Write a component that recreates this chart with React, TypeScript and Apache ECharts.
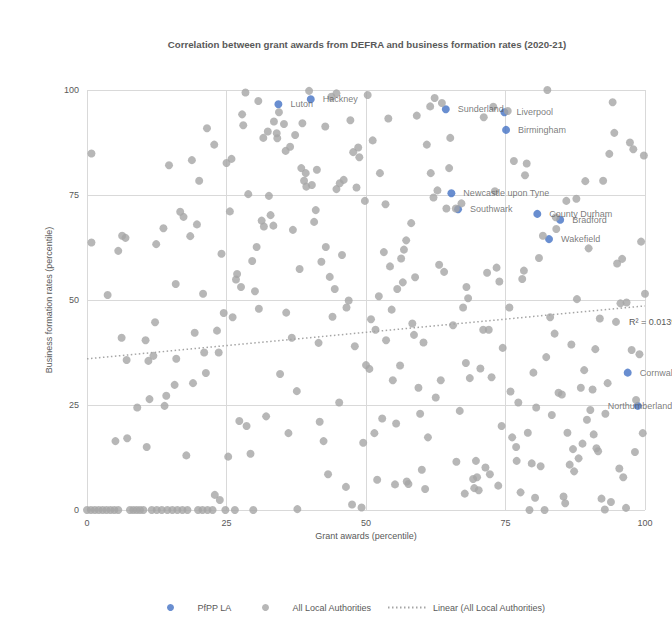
import React, { useEffect, useRef } from "react";
import * as echarts from "echarts";

const TITLE = "Correlation between grant awards from DEFRA and business formation rates (2020-21)";
const X_NAME = "Grant awards (percentile)";
const Y_NAME = "Business formation rates (percentile)";
const SERIES_PFPP = "PfPP LA";
const SERIES_ALL = "All Local Authorities";
const SERIES_TREND = "Linear (All Local Authorities)";
const R_SQUARED = "R² = 0.0139";

const pfppNames = ["Luton", "Hackney", "Sunderland", "Liverpool", "Birmingham", "Newcastle upon Tyne", "Southwark", "County Durham", "Bradford", "Wakefield", "Cornwall", "Northumberland"];
const pfppGrant = [34.3, 40.1, 64.3, 74.8, 75.1, 65.3, 66.5, 80.7, 84.8, 82.8, 96.9, 98.7];
const pfppBusiness = [96.6, 97.8, 95.4, 94.7, 90.5, 75.4, 71.6, 70.5, 69.1, 64.5, 32.7, 24.8];

const allHigh: [number, number][] = [
  [28.4, 99.4], [30.7, 97.4], [34.4, 94.7], [27.8, 94.2], [28.0, 91.6], [33.5, 92.5], [32.4, 90.1], [34.0, 89.7], [31.6, 88.6], [34.1, 88.5],
  [21.5, 90.9], [22.8, 87.0], [0.8, 84.9], [14.7, 82.1], [18.8, 83.3], [25.0, 82.6], [25.9, 83.6], [20.1, 78.4], [28.9, 75.2], [32.6, 74.8],
  [25.6, 71.1], [16.7, 71.0], [17.3, 69.8], [19.7, 68.0], [13.7, 67.1], [32.9, 70.2], [31.3, 68.9], [33.4, 67.7], [31.7, 67.5],
  [39.8, 99.8], [44.7, 99.2], [43.8, 98.4], [50.3, 98.8], [35.3, 91.9], [38.6, 92.1], [42.7, 91.3], [47.2, 92.8], [37.3, 89.3], [35.6, 85.5],
  [36.4, 86.5], [47.7, 85.2], [48.6, 86.3], [48.8, 84.0], [51.2, 88.0], [54.0, 93.2], [59.1, 93.9], [61.5, 96.1], [62.3, 98.1], [63.6, 96.9],
  [65.1, 88.6], [60.9, 87.0], [38.4, 81.4], [39.2, 80.2], [41.2, 81.0], [38.9, 78.4], [39.3, 77.0], [40.3, 77.4], [44.7, 76.4], [45.3, 77.8],
  [46.0, 78.6], [48.3, 76.8], [52.5, 80.2], [61.6, 80.2], [64.9, 81.4], [62.8, 76.1], [62.1, 74.4], [64.4, 71.8], [66.1, 71.8], [67.1, 73.0],
  [49.8, 73.6], [53.5, 72.8], [41.0, 71.4], [40.7, 68.6], [36.9, 66.7], [58.1, 68.3],
  [82.5, 100], [94.2, 97.1], [72.8, 96.0], [71.1, 93.5], [75.4, 95.0], [94.5, 89.8], [97.3, 87.5], [97.9, 85.9], [99.8, 84.4], [93.6, 84.8],
  [76.5, 83.1], [78.8, 82.5], [78.5, 79.7], [89.3, 78.3], [92.5, 78.4], [73.1, 75.9], [85.9, 73.6], [87.7, 74.1], [84.0, 69.7], [84.1, 66.9],
];

const allMid: [number, number][] = [
  [0.8, 63.7], [6.3, 65.3], [6.9, 64.8], [5.6, 61.7], [12.4, 63.3], [18.5, 65.2], [24.1, 61.0], [15.9, 53.8], [3.7, 51.2], [20.8, 51.5],
  [26.9, 56.2], [26.7, 54.9], [27.6, 53.1], [29.6, 59.3], [30.4, 62.6], [30.1, 52.1], [24.5, 46.9], [26.1, 45.9], [30.8, 47.9], [12.2, 44.7],
  [6.2, 41.0], [10.5, 40.4], [19.3, 42.2], [23.3, 42.7], [7.1, 35.7], [11.0, 35.5], [11.9, 36.7], [16.0, 36.0], [21.0, 37.5], [23.6, 37.5],
  [21.3, 32.6], [34.6, 32.4],
  [57.2, 64.2], [56.8, 62.0], [56.3, 59.9], [53.2, 61.4], [54.3, 58.0], [42.8, 62.6], [45.7, 60.7], [42.0, 59.1], [38.1, 57.4], [43.5, 55.5],
  [44.4, 52.6], [46.9, 49.9], [46.5, 48.2], [52.3, 50.9], [56.6, 54.2], [55.6, 52.6], [58.8, 55.4], [63.1, 58.4], [64.0, 56.7], [68.0, 53.1],
  [68.3, 50.4], [67.4, 48.2], [35.7, 47.0], [44.0, 46.0], [50.9, 45.4], [54.6, 47.7], [51.7, 42.9], [58.3, 44.4], [58.6, 41.7], [65.6, 44.0],
  [36.7, 41.0], [41.5, 39.8], [48.0, 39.0], [53.6, 40.4], [60.3, 39.9], [50.0, 34.5], [50.6, 33.6], [56.1, 34.4], [67.9, 35.0],
  [81.7, 65.3], [99.3, 63.9], [89.9, 62.3], [81.0, 60.0], [95.0, 58.7], [95.9, 59.8], [71.7, 56.5], [73.4, 57.7], [73.9, 54.4], [78.3, 57.0],
  [78.0, 55.0], [75.7, 48.2], [87.8, 50.2], [95.6, 49.2], [96.7, 49.4], [100, 51.5], [83.0, 45.9], [91.9, 45.6], [94.8, 44.8], [71.0, 42.9],
  [72.0, 42.9], [83.8, 42.0], [74.5, 38.6], [86.8, 39.4], [91.1, 38.3], [97.6, 38.1], [99.0, 37.1], [82.3, 36.4], [70.5, 33.7], [80.0, 32.7],
  [89.1, 33.3], [72.5, 31.6],
];

const allLow: [number, number][] = [
  [15.7, 29.8], [19.0, 30.2], [11.2, 26.4], [14.2, 27.2], [9.0, 24.4], [13.9, 24.8], [5.1, 16.4], [7.2, 17.1], [10.7, 15.0], [17.8, 13.0],
  [25.3, 12.7], [29.3, 13.4], [27.3, 21.2], [28.6, 20.0], [32.1, 22.3], [22.9, 3.6], [23.8, 2.4],
  [37.6, 28.3], [45.2, 25.6], [54.8, 30.9], [59.4, 29.1], [63.4, 30.9], [62.5, 26.8], [68.6, 31.4], [36.1, 18.3], [41.7, 21.0], [42.4, 16.4],
  [49.5, 16.0], [52.9, 21.8], [55.4, 20.6], [51.5, 18.3], [59.7, 22.9], [61.1, 17.3], [66.8, 23.6], [43.2, 8.5], [46.4, 5.5], [47.5, 1.3],
  [49.2, 0.6], [37.7, 0.2], [52.0, 7.2], [55.2, 6.1], [57.3, 6.8], [57.6, 6.2], [60.0, 9.6], [60.6, 5.0], [66.2, 11.5], [67.7, 3.9],
  [75.9, 28.2], [77.3, 25.6], [80.5, 24.4], [84.5, 27.9], [85.1, 27.5], [88.5, 29.1], [90.6, 28.7], [93.3, 30.2], [98.4, 26.2], [83.3, 22.6],
  [90.2, 23.8], [89.6, 21.5], [92.9, 22.9], [74.3, 20.0], [79.0, 18.4], [76.2, 17.3], [76.9, 15.0], [86.1, 18.4], [90.8, 18.0], [99.6, 18.3],
  [88.8, 15.8], [87.1, 14.5], [91.3, 14.7], [91.6, 14.0], [98.2, 13.8], [88.1, 12.3], [77.0, 11.7], [79.7, 11.1], [81.3, 10.4], [86.5, 10.8],
  [87.3, 9.2], [95.4, 9.9], [96.1, 7.8], [69.7, 11.7], [71.4, 10.1], [72.2, 8.5], [69.2, 7.4], [69.9, 7.8], [73.7, 5.8], [69.4, 5.2],
  [70.2, 4.7], [77.7, 4.2], [80.3, 2.9], [85.4, 3.2], [85.7, 1.6], [92.2, 2.7], [93.9, 1.9], [96.6, 0.5], [92.8, 0.1],
];

// grant percentile of authorities whose business formation percentile is 0
const allZeroRowGrant = [
  0, 0.7, 1.4, 2.1, 2.8, 3.5, 4.2, 4.9, 5.6, 7.7, 8.3, 8.9, 9.5, 10.1, 11.6, 12.5, 13.4, 14.4, 15.3, 16.2,
  17.1, 18.0, 19.9, 20.7, 21.6, 22.5, 24.8, 26.5, 29.8, 79.3, 82.0,
];

const trendStart: [number, number] = [0, 36.0];
const trendEnd: [number, number] = [100, 48.6];

const TEXT = "#595959";
const GRID = "#d9d9d9";
const BLUE = "#4472C4";
const GREY = "#A5A5A5";
const FONT = "'Liberation Sans', Arial, sans-serif";

export default function App() {
  const ref = useRef<HTMLDivElement>(null);

  useEffect(() => {
    if (!ref.current) return;
    const chart = echarts.init(ref.current, null, { renderer: "svg" });

    const pfppData = pfppNames.map((name, i) => {
      const item: any = { name, value: [pfppGrant[i], pfppBusiness[i]] };
      if (name === "Northumberland") {
        item.label = { position: [-26, 4], align: "left", verticalAlign: "middle" };
      }
      return item;
    });

    const allData = [
      ...allHigh,
      ...allMid,
      ...allLow,
      ...allZeroRowGrant.map((g) => [g, 0]),
    ];

    const axisCommon = {
      type: "value" as const,
      min: 0,
      max: 100,
      interval: 25,
      axisLine: { show: false },
      axisTick: { show: false },
      splitLine: { show: true, lineStyle: { color: GRID, width: 1 } },
      axisLabel: { color: TEXT, fontSize: 9, fontFamily: FONT, margin: 8 },
      nameLocation: "middle" as const,
      nameTextStyle: { color: TEXT, fontSize: 9, fontFamily: FONT },
    };

    const legendCommon = {
      top: 598,
      itemHeight: 7,
      textStyle: { color: TEXT, fontSize: 9, fontFamily: FONT },
    };

    chart.setOption({
      animation: false,
      textStyle: { fontFamily: FONT },
      title: {
        text: TITLE,
        left: 362,
        textAlign: "center",
        top: 34,
        textStyle: { color: TEXT, fontSize: 9.7, fontWeight: "bold", fontFamily: FONT },
      },
      grid: { left: 87, top: 90, right: 27, bottom: 114, containLabel: false },
      xAxis: { ...axisCommon, name: X_NAME, nameGap: 20 },
      yAxis: { ...axisCommon, name: Y_NAME, nameGap: 17 },
      legend: [
        { ...legendCommon, left: 162, itemWidth: 44, data: [{ name: SERIES_PFPP, icon: "circle" }] },
        { ...legendCommon, left: 257, itemWidth: 44, data: [{ name: SERIES_ALL, icon: "circle" }] },
        { ...legendCommon, left: 382, itemWidth: 40, data: [{ name: SERIES_TREND, itemStyle: { opacity: 0 } }] },
      ],
      series: [
        {
          name: SERIES_PFPP,
          type: "scatter",
          symbolSize: 8,
          clip: false,
          itemStyle: { color: BLUE },
          label: {
            show: true,
            position: "right",
            distance: 8,
            formatter: "{b}",
            color: TEXT,
            fontSize: 9,
            fontFamily: FONT,
          },
          data: pfppData,
          z: 2,
        },
        {
          name: SERIES_ALL,
          type: "scatter",
          symbolSize: 8,
          clip: false,
          itemStyle: { color: GREY },
          data: allData,
          z: 2,
        },
        {
          name: SERIES_TREND,
          type: "line",
          showSymbol: false,
          symbol: "none",
          silent: true,
          lineStyle: { color: GREY, width: 1.5, type: [1.5, 2.5] },
          itemStyle: { color: GREY },
          data: [trendStart, trendEnd],
          z: 3,
        },
      ],
    });

    const end = chart.convertToPixel({ gridIndex: 0 }, trendEnd) as number[];
    chart.setOption({
      graphic: [
        {
          type: "text",
          x: end[0] - 16,
          y: end[1] + 16,
          style: { text: R_SQUARED, fill: TEXT, fontSize: 9, fontFamily: FONT, verticalAlign: "middle", align: "left" },
        },
      ],
    });

    return () => chart.dispose();
  }, []);

  return (
    <div
      ref={ref}
      style={{ position: "fixed", left: 0, top: 0, width: 672, height: 624, background: "#ffffff" }}
    />
  );
}
